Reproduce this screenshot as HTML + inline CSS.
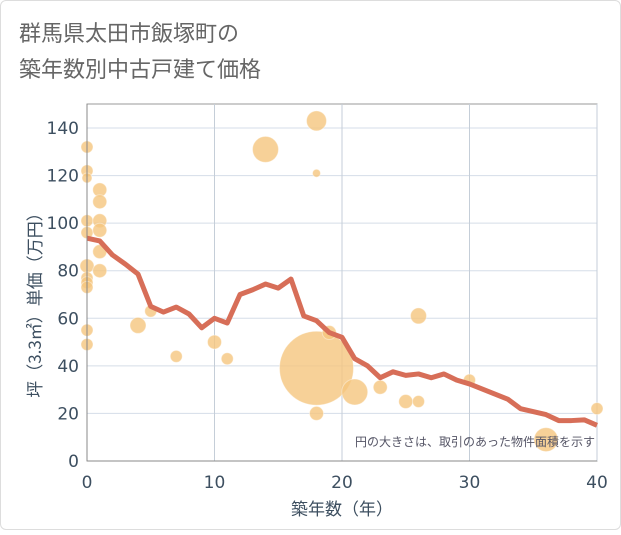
<!DOCTYPE html>
<html><head><meta charset="utf-8"><style>
body{margin:0;background:#fff;font-family:"DejaVu Sans","Noto Sans CJK JP",sans-serif}
#w{width:621px;height:530px;position:relative;background:#fff;border:1px solid #ddd;box-sizing:border-box;border-radius:6px}
</style></head><body>
<div id="w">
<svg id="c" width="621" height="530">
<text x="18" y="40" font-size="22" fill="#666" font-family="Noto Sans CJK JP, sans-serif">群馬県太田市飯塚町の</text>
<text x="18" y="76" font-size="22" fill="#666" font-family="Noto Sans CJK JP, sans-serif">築年数別中古戸建て価格</text>
<g id="grid"></g>
<g id="bub"></g>
<g id="ln"></g>
<g id="ax"></g>
<text x="594" y="445" font-size="12" fill="#556" text-anchor="end" font-family="Noto Sans CJK JP, sans-serif">円の大きさは、取引のあった物件面積を示す</text>
<text x="341" y="514" font-size="17" fill="#3d4f60" text-anchor="middle" font-family="Noto Sans CJK JP, sans-serif">築年数（年）</text>
<text transform="translate(40,300) rotate(-90)" font-size="17" fill="#3d4f60" text-anchor="middle" font-family="Noto Sans CJK JP, sans-serif">坪（3.3㎡）単価（万円）</text>
</svg></div>
<script>
const xTicks=[0,10,20,30,40];
const yTicks=[0,20,40,60,80,100,120,140];
const lineYears=[0,1,2,3,4,5,6,7,8,9,10,11,12,13,14,15,16,17,18,19,20,21,22,23,24,25,26,27,28,29,30,33,34,36,37,38,39,40];
const lineVals=[93.7,92.5,86.6,82.8,78.6,65,62.6,64.7,61.8,56,60,58,70,72,74.4,72.7,76.5,61,59,54,52,43,40,35,37.5,36,36.6,35,36.6,34,32.4,26,22,19.5,17,17,17.3,15];
const bubX=[0,0,0,1,1,0,1,0,1,1,0,1,0,0,0,0,0,4,5,7,10,11,14,18,18,18,18,19,21,23,25,26,26,30,36,40];
const bubY=[132,122,119,114,109,101,101,96,97,88,82,80,77,75,73,55,49,57,63,44,50,43,131,143,121,39,20,54,29,31,25,25,61,34,9,22];
const bubR=[6,6,5,7,7,6,7,6,7,7,7,7,6,6,6,6,6,8,6,6,7,6,13,10,4,37,7,7,13,7,7,6,8,6,12,6];
const L=86,R=596,T=103,B=460;
const sx=v=>L+v*(R-L)/40, sy=v=>B-v*(B-127)/140;
const ns="http://www.w3.org/2000/svg";
function mk(p,t,a){const e=document.createElementNS(ns,t);for(const k in a)e.setAttribute(k,a[k]);p.appendChild(e);return e;}
const g=document.getElementById('grid'),ax=document.getElementById('ax');
mk(g,'rect',{x:L,y:T,width:R-L,height:B-T,fill:'#fff',stroke:'#999'});
yTicks.forEach(v=>{const l=mk(g,'line',{x1:L,x2:R,y1:sy(v),y2:sy(v),stroke:'#d5dde8'});
const t=mk(ax,'text',{x:L-8,y:sy(v)+6,'font-size':17,fill:'#3d4f60','text-anchor':'end'});t.textContent=v;});
xTicks.forEach(v=>{const l=mk(g,'line',{x1:sx(v),x2:sx(v),y1:T,y2:B,stroke:'#c5ced8'});
const t=mk(ax,'text',{x:sx(v),y:B+27,'font-size':17,fill:'#3d4f60','text-anchor':'middle'});t.textContent=v;});
mk(ax,'line',{x1:L,x2:L,y1:T,y2:B,stroke:'#888'});mk(ax,'line',{x1:L,x2:R,y1:B,y2:B,stroke:'#888'});
const bg=document.getElementById('bub');
bubX.forEach((x,i)=>{const c=mk(bg,'circle',{cx:sx(x),cy:sy(bubY[i]),r:bubR[i],fill:'#f5c57e','fill-opacity':0.8,stroke:'#fff','stroke-opacity':0.4});
});
const p=mk(document.getElementById('ln'),'polyline',{points:lineYears.map((x,i)=>sx(x)+','+sy(lineVals[i])).join(' '),fill:'none',stroke:'#d76e58',"stroke-width":5,"stroke-linejoin":"round"});

</script></body></html>
